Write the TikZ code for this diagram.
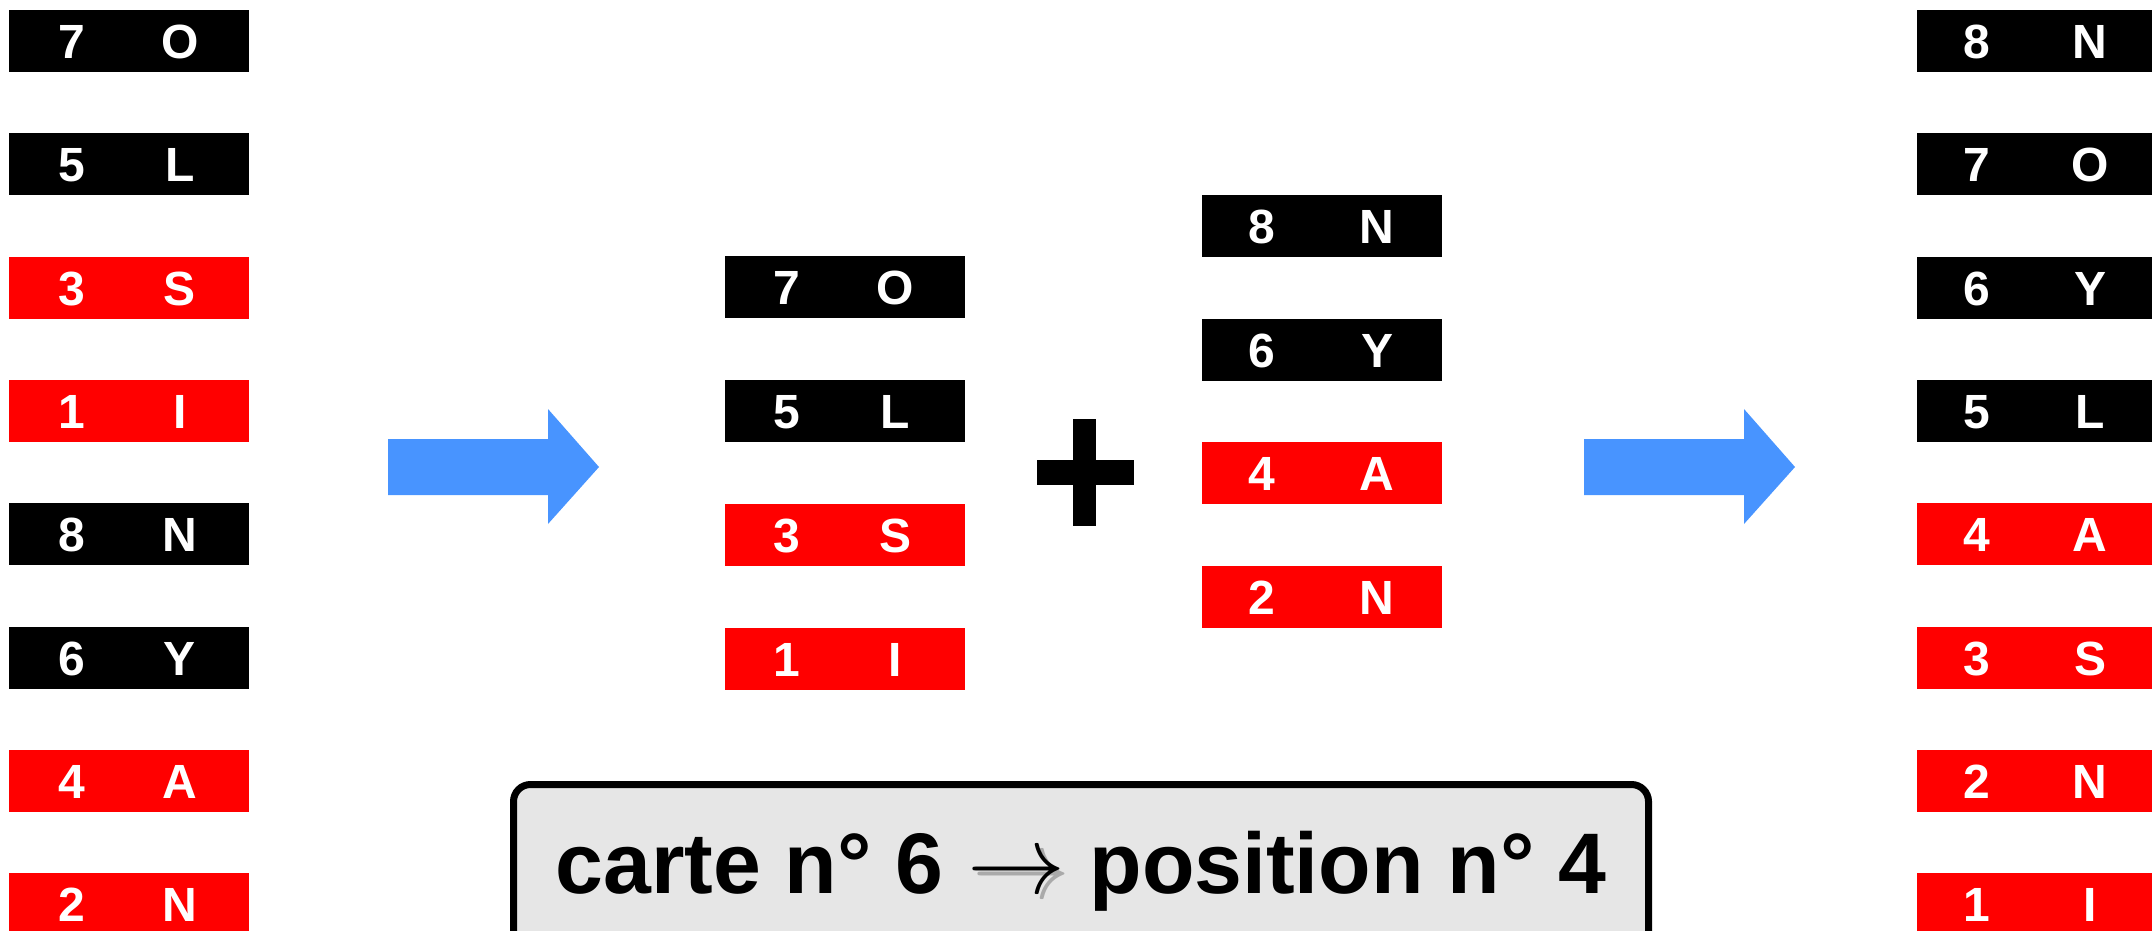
\documentclass[tikz,border=0pt]{standalone}
\usepackage{fontspec}
\setmainfont{Liberation Sans}
\usetikzlibrary{calc}
\definecolor{arrblue}{RGB}{72,148,255}
\definecolor{capgray}{RGB}{230,230,230}
\definecolor{shadgray}{RGB}{170,170,170}
\newcommand\bigrarr{\resizebox{98pt}{!}{$\rightarrow$}}
\newcommand\shadarr{\makebox[0pt][l]{\hspace{5pt}\raisebox{-5pt}{\color{shadgray}\bigrarr}}\bigrarr}
\tikzset{
  cardbox/.style={rectangle, inner sep=0pt, outer sep=0pt, minimum width=240pt, minimum height=62pt, anchor=north west},
  cardtxt/.style={text=white, font=\fontsize{48}{48}\selectfont\bfseries, inner sep=0pt, anchor=base},
  bigarrow/.style={fill=arrblue},
}
\newcommand\card[8]{%
  \node[cardbox, fill=#4] (#1) at (#2,#3) {};
  \node[cardtxt] (#1d) at ($(#1.north west)+(#7,48.5)$) {#5};
  \node[cardtxt] (#1l) at ($(#1.north west)+(#8,48.5)$) {#6};
}
\begin{document}
\begin{tikzpicture}[x=1pt,y=-1pt]
\useasboundingbox (0,0) rectangle (2152,931);
% left column
\card{a1}{9}{10}{black}{7}{O}{63}{171}
\card{a2}{9}{133.3}{black}{5}{L}{63}{171}
\card{a3}{9}{256.6}{red}{3}{S}{63}{171}
\card{a4}{9}{379.9}{red}{1}{I}{63}{171}
\card{a5}{9}{503.2}{black}{8}{N}{63}{171}
\card{a6}{9}{626.5}{black}{6}{Y}{63}{171}
\card{a7}{9}{749.8}{red}{4}{A}{63}{171}
\card{a8}{9}{873.1}{red}{2}{N}{63}{171}
% middle column 1
\card{b1}{725}{256}{black}{7}{O}{62}{170}
\card{b2}{725}{380}{black}{5}{L}{62}{170}
\card{b3}{725}{504}{red}{3}{S}{62}{170}
\card{b4}{725}{628}{red}{1}{I}{62}{170}
% middle column 2
\card{c1}{1202}{195}{black}{8}{N}{60}{175}
\card{c2}{1202}{318.5}{black}{6}{Y}{60}{175}
\card{c3}{1202}{442}{red}{4}{A}{60}{175}
\card{c4}{1202}{565.5}{red}{2}{N}{60}{175}
% right column
\card{d1}{1917}{10}{black}{8}{N}{60}{173}
\card{d2}{1917}{133.3}{black}{7}{O}{60}{173}
\card{d3}{1917}{256.6}{black}{6}{Y}{60}{173}
\card{d4}{1917}{379.9}{black}{5}{L}{60}{173}
\card{d5}{1917}{503.2}{red}{4}{A}{60}{173}
\card{d6}{1917}{626.5}{red}{3}{S}{60}{173}
\card{d7}{1917}{749.8}{red}{2}{N}{60}{173}
\card{d8}{1917}{873.1}{red}{1}{I}{60}{173}
% blue arrows
\fill[bigarrow] (388,439) -- (548,439) -- (548,409) -- (599,467) -- (548,524) -- (548,495) -- (388,495) -- cycle;
\fill[bigarrow] (1584,439) -- (1744,439) -- (1744,409) -- (1795,467) -- (1744,524) -- (1744,495) -- (1584,495) -- cycle;
% plus sign
\fill[black] (1073,419) rectangle (1096,526);
\fill[black] (1037,460) rectangle (1134,485);
% caption box
\draw[line width=7pt, fill=capgray, rounded corners=17pt] (513.5,784.5) rectangle (1648.5,965);
\node[font=\fontsize{86}{86}\selectfont\bfseries, inner sep=0pt, anchor=base] (cap) at (1081,893) {carte n° 6 \shadarr\ position n° 4};
\end{tikzpicture}
\end{document}
